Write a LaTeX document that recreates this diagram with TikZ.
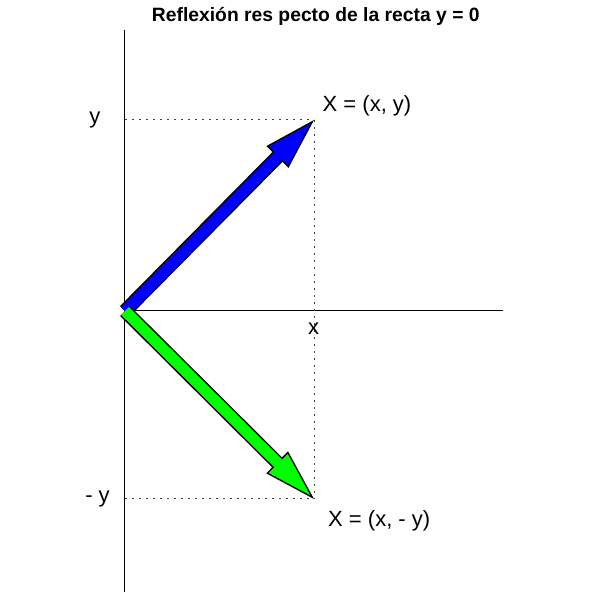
\documentclass[tikz,border=0pt]{standalone}
\usepackage{fontspec}
\setmainfont{Liberation Sans}
\usepackage{tikz}
\usetikzlibrary{arrows.meta}

\definecolor{vecblue}{rgb}{0,0,1}
\definecolor{vecgreen}{rgb}{0,1,0}

\tikzset{
  axis/.style={line width=1pt},
  guide/.style={line width=1pt, dash pattern=on 2pt off 5pt, black!75},
  vecout/.style={line width=14pt, black, -{Triangle[length=52pt,width=31pt,line width=0pt]}},
  vecin/.style={line width=11pt, shorten >=5.4pt, -{Triangle[length=45.1pt,width=27pt,line width=0pt]}},
  lbl/.style={inner sep=0pt, font=\fontsize{22}{26}\selectfont},
}

\begin{document}
\begin{tikzpicture}[x=1pt,y=1pt]
        \useasboundingbox (-125,-293) rectangle (480,311);
        % points
        \coordinate (O) at (0,0);
        \coordinate (P) at (189,191);
        \coordinate (Q) at (189,-188);
        \coordinate (Py) at (0,191);
        \coordinate (Qy) at (0,-188);
        \coordinate (Ytop) at (0,281);
        \coordinate (Ybot) at (0,-281);
        \coordinate (Xend) at (378,0);
        % axes
        \draw[axis] (Ybot) -- (Ytop);
        \draw[axis] (O) -- (Xend);
        % guides
        \draw[guide] (Py) -- (P);
        \draw[guide] (Qy) -- (Q);
        \draw[guide] (P) -- (Q);
        % vectors
        \draw[vecout] (O) -- (P);
        \draw[vecin, vecblue] (O) -- (P);
        \draw[vecout] (O) -- (Q);
        \draw[vecin, vecgreen] (O) -- (Q);
        % labels
        \node[lbl, anchor=base west] (lp) at (197.5,199.5) {X = (x, y)};
        \node[lbl, anchor=base west] (lq) at (203,-215.5) {X = (x, - y)};
        \node[lbl, anchor=base] (ly) at (-30,187.5) {y};
        \node[lbl, anchor=base] (lmy) at (-27.5,-192) {- y};
        \node[lbl, anchor=base] (lx) at (188.5,-24) {x};
        \node[inner sep=0pt, anchor=base, font=\bfseries\fontsize{19.3}{23}\selectfont] (title) at (190.8,289.3) {Reflexión res pecto de la recta y = 0};
\end{tikzpicture}
\end{document}
